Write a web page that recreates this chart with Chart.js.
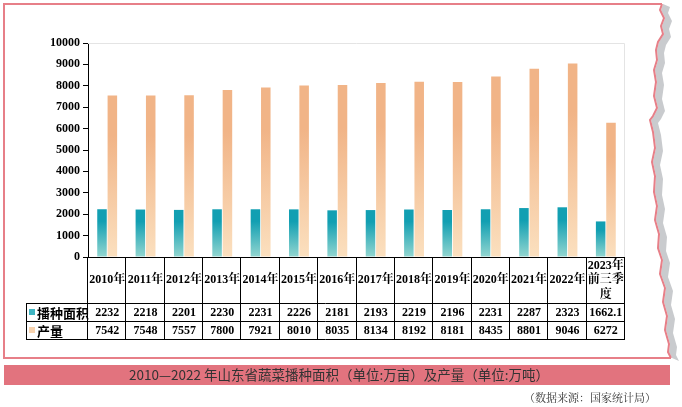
<!DOCTYPE html>
<html>
<head>
<meta charset="utf-8">
<script src="https://cdn.jsdelivr.net/npm/chart.js@4/dist/chart.umd.min.js"></script>
<style>
  html, body { margin: 0; padding: 0; background: #fff; }
  #wrap { width: 682px; height: 407px; }
</style>
</head>
<body>
<div id="wrap"><canvas id="c" width="682" height="407"></canvas></div>
<script>
// values
const years = ['2010年', '2011年', '2012年', '2013年', '2014年', '2015年', '2016年',
  '2017年', '2018年', '2019年', '2020年', '2021年', '2022年', ['2023年', '前三季', '度']];
const sownArea = [2232, 2218, 2201, 2230, 2231, 2226, 2181, 2193, 2219, 2196, 2231, 2287, 2323, 1662.1];
const output = [7542, 7548, 7557, 7800, 7921, 8010, 8035, 8134, 8192, 8181, 8435, 8801, 9046, 6272];
const areaLabels = ['2232', '2218', '2201', '2230', '2231', '2226', '2181', '2193', '2219', '2196', '2231', '2287', '2323', '1662.1'];
const seriesNames = ['播种面积', '产量'];
const titleText = '2010—2022 年山东省蔬菜播种面积（单位:万亩）及产量（单位:万吨）';
const sourceText = '（数据来源：国家统计局）';

const PINK = '#e77f88';
const serifBold = 'bold 12px "Liberation Serif", "DejaVu Serif", serif';
const cjkBold = 'bold 13px "Noto Sans CJK SC", sans-serif';

// gradient per bar, dark at the bar top and pale at the base
function barGradient(ctx, top, bottom) {
    const chart = ctx.chart;
    const area = chart.chartArea;
    if (!area || ctx.parsed == null) return top;
    const y = chart.scales.y.getPixelForValue(ctx.parsed.y);
    const g = chart.ctx.createLinearGradient(0, y, 0, area.bottom);
    g.addColorStop(0, top);
    g.addColorStop(0.25, top);
    g.addColorStop(1, bottom);
    return g;
}

// torn right edge of the frame (decoration only)
const tornEdge = [[662, 4], [660, 10], [664, 18], [661, 26], [663, 34], [658, 42], [656, 50], [657, 60],
  [654, 70], [656, 82], [654, 96], [657, 108], [653, 116], [650, 120], [653, 132], [655, 148],
  [652, 162], [655, 176], [654, 192], [657, 206], [655, 220], [659, 234], [658, 248], [662, 260],
  [660, 274], [665, 288], [663, 302], [667, 316], [665, 330], [669, 344], [668, 352], [671, 358]];

const decor = {
    id: 'decor',
    beforeDraw(chart) {
        const c = chart.ctx;
        c.save();
        c.fillStyle = '#fff';
        c.fillRect(0, 0, chart.width, chart.height);

        // grey paper shadow behind torn edge
        c.fillStyle = '#c9cbce';
        c.beginPath();
        tornEdge.forEach(([x, y], i) => i ? c.lineTo(x + 1, y) : c.moveTo(x + 1, y));
        for (let i = tornEdge.length - 1; i >= 0; i--) {
            const [x, y] = tornEdge[i];
            c.lineTo(x + 8, y + 3);
        }
        c.closePath();
        c.fill();

        // pink frame
        c.strokeStyle = PINK;
        c.lineWidth = 2;
        c.beginPath();
        c.moveTo(662, 4);
        c.lineTo(4, 4);
        c.lineTo(4, 358);
        c.lineTo(671, 358);
        c.stroke();
        c.beginPath();
        tornEdge.forEach(([x, y], i) => i ? c.lineTo(x, y) : c.moveTo(x, y));
        c.stroke();

        // title bar
        c.fillStyle = '#e2737e';
        c.fillRect(4, 365, 666, 20);
        c.fillStyle = '#333';
        c.font = '13.5px "Noto Sans CJK SC", sans-serif';
        c.textAlign = 'center';
        c.textBaseline = 'middle';
        c.fillText(titleText, 339, 375);

        c.font = '11px "Noto Serif CJK SC", "Noto Sans CJK SC", serif';
        c.textAlign = 'right';
        c.fillText(sourceText, 656, 398);
        c.restore();
    },
    afterDraw(chart) {
        const c = chart.ctx;
        const a = chart.chartArea;
        const n = years.length;
        const w = (a.right - a.left) / n;
        const top = a.bottom, r1 = 303, r2 = 321, bot = 339, legL = 26;
        c.save();

        // faint plot border
        c.strokeStyle = '#e4e4e4';
        c.lineWidth = 1;
        c.beginPath();
        c.moveTo(a.left, a.top + 0.5);
        c.lineTo(a.right - 0.5, a.top + 0.5);
        c.lineTo(a.right - 0.5, a.bottom);
        c.stroke();

        // data table
        c.strokeStyle = '#000';
        c.beginPath();
        c.moveTo(a.left, top + 0.5); c.lineTo(a.right, top + 0.5);
        c.moveTo(legL, r1 + 0.5); c.lineTo(a.right, r1 + 0.5);
        c.moveTo(legL, r2 + 0.5); c.lineTo(a.right, r2 + 0.5);
        c.moveTo(legL, bot + 0.5); c.lineTo(a.right, bot + 0.5);
        c.moveTo(legL + 0.5, r1); c.lineTo(legL + 0.5, bot);
        for (let i = 0; i <= n; i++) {
            const x = Math.round(a.left + i * w) - 0.5;
            c.moveTo(x, top); c.lineTo(x, bot);
        }
        c.stroke();

        c.fillStyle = '#000';
        c.textAlign = 'center';
        c.textBaseline = 'middle';
        c.font = 'bold 12px "Liberation Serif", "Noto Serif CJK SC", serif';
        years.forEach((y, i) => {
            const cx = a.left + (i + 0.5) * w;
            const lines = Array.isArray(y) ? y : [y];
            lines.forEach((t, k) => {
                c.fillText(t, cx, (top + r1) / 2 + (k - (lines.length - 1) / 2) * 14.5);
            });
        });
        c.font = serifBold;
        for (let i = 0; i < n; i++) {
            const cx = a.left + (i + 0.5) * w;
            c.fillText(areaLabels[i], cx, (r1 + r2) / 2 + 1);
            c.fillText(String(output[i]), cx, (r2 + bot) / 2 + 1);
        }

        // legend keys
        const keys = [['#3fb5c2', seriesNames[0], (r1 + r2) / 2], ['#f8d3af', seriesNames[1], (r2 + bot) / 2]];
        c.textAlign = 'left';
        c.font = cjkBold;
        keys.forEach(([col, name, cy]) => {
            c.fillStyle = col;
            c.fillRect(29, cy - 3, 6, 6);
            c.fillStyle = '#000';
            c.fillText(name, 37, cy + 1);
        });
        c.restore();
    }
};

new Chart(document.getElementById('c'), {
    type: 'bar',
    data: {
        labels: years,
        datasets: [
            {
                label: seriesNames[0],
                data: sownArea,
                backgroundColor: (ctx) => barGradient(ctx, '#129fb2', '#93d6d0'),
                categoryPercentage: 0.54,
                barPercentage: 0.92
            },
            {
                label: seriesNames[1],
                data: output,
                backgroundColor: (ctx) => barGradient(ctx, '#f1b487', '#fbe0bf'),
                categoryPercentage: 0.54,
                barPercentage: 0.92
            }
        ]
    },
    options: {
        responsive: false,
        devicePixelRatio: 1,
        animation: false,
        layout: { padding: { left: 0, top: 43, right: 57, bottom: 150 } },
        plugins: { legend: { display: false }, tooltip: { enabled: false } },
        scales: {
            x: { display: false },
            y: {
                min: 0,
                max: 10000,
                ticks: {
                    stepSize: 1000,
                    color: '#000',
                    padding: 3,
                    font: { family: '"Liberation Serif", serif', size: 12, weight: 'bold' },
                    callback: (v) => String(v)
                },
                grid: { drawOnChartArea: false, tickLength: 5, color: '#000' },
                border: { color: '#000' },
                afterFit(scale) { scale.width = 88; }
            }
        }
    },
    plugins: [decor]
});
</script>
</body>
</html>
